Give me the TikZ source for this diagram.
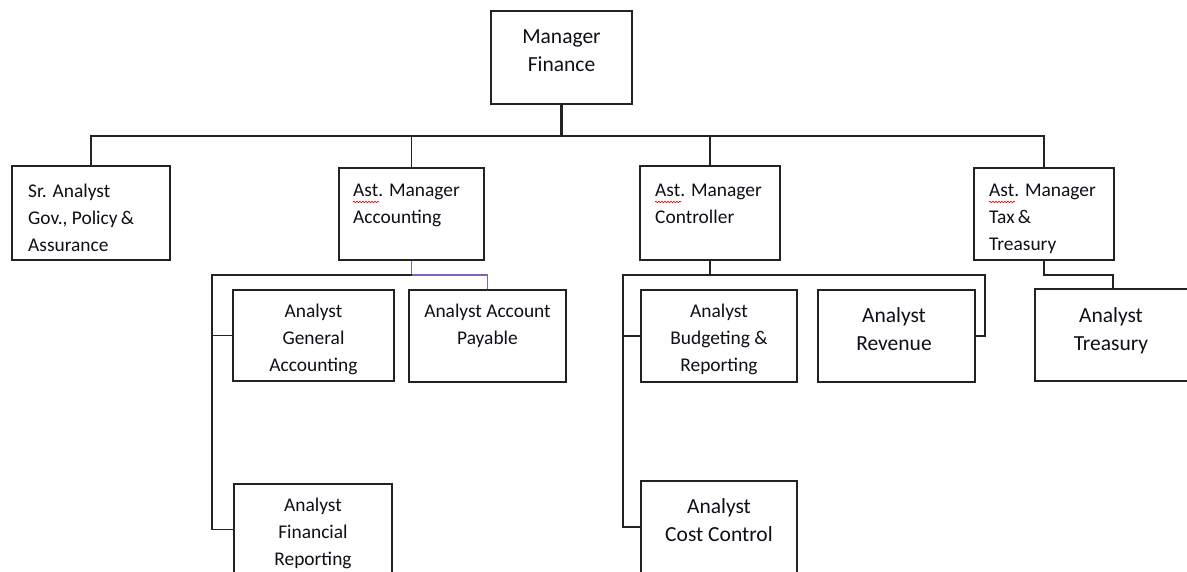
\documentclass[tikz,border=0pt]{standalone}
\usepackage{fontspec}
\setmainfont{Carlito}
\usetikzlibrary{decorations.pathmorphing}
\definecolor{linec}{RGB}{35,35,35}
\definecolor{purp}{RGB}{135,95,190}
\definecolor{txtc}{RGB}{15,15,25}
\begin{document}
\begin{tikzpicture}[x=1pt,y=-1pt,
  orgbox/.style={draw=linec,line width=1.8pt,inner sep=0pt},
  stxt/.style={font=\fontsize{19.4}{27}\selectfont,text=txtc,inner sep=0pt},
  ltxt/.style={font=\fontsize{21.5}{28}\selectfont,text=txtc,inner sep=0pt},
  conn/.style={draw=linec,line width=1.8pt},
  purpline/.style={draw=purp,line width=1.8pt},
  squig/.style={draw=red!85!black,line width=0.6pt,decorate,decoration={snake,amplitude=0.8pt,segment length=3pt}}
]
\useasboundingbox[fill=white] (0,0) rectangle (1187,571);

% boxes
\node[orgbox,minimum width=141,minimum height=93] (mgr) at (561.5,57.5) {};
\node[orgbox,minimum width=158,minimum height=94] (sr) at (91,213) {};
\node[orgbox,minimum width=145,minimum height=92] (acc) at (411.5,214) {};
\node[orgbox,minimum width=140,minimum height=94] (ctrl) at (710,213) {};
\node[orgbox,minimum width=140,minimum height=92] (tax) at (1044,214) {};
\node[orgbox,minimum width=161,minimum height=91] (gen) at (313.5,335.5) {};
\node[orgbox,minimum width=157,minimum height=92] (ap) at (487.5,336) {};
\node[orgbox,minimum width=158,minimum height=91] (fin) at (313,529.5) {};
\node[orgbox,minimum width=156,minimum height=92] (bud) at (719,336) {};
\node[orgbox,minimum width=157,minimum height=92] (rev) at (896.5,336) {};
\node[orgbox,minimum width=156,minimum height=92] (cost) at (719,527) {};
\node[orgbox,minimum width=156,minimum height=92] (tre) at (1113,335) {};

% texts (anchored at baseline of last line)
\node[ltxt,align=center,anchor=base] (mgrT) at (561.5,71) {Manager\\Finance};
\node[stxt,align=left,anchor=base west] (srT) at (28,251) {Sr. Analyst\\Gov., Policy\,\&\\Assurance};
\node[stxt,align=left,anchor=base west] (accT) at (353,223) {Ast. Manager\\Accounting};
\node[stxt,align=left,anchor=base west] (ctrlT) at (655,223) {Ast. Manager\\Controller};
\node[stxt,align=left,anchor=base west] (taxT) at (989,250) {Ast. Manager\\Tax\,\&\\Treasury};
\node[stxt,align=center,anchor=base] (genT) at (313.5,371) {Analyst\\General\\Accounting};
\node[stxt,align=center,anchor=base] (apT) at (487.5,344) {Analyst Account\\Payable};
\node[stxt,align=center,anchor=base] (finT) at (313,565) {Analyst\\Financial\\Reporting};
\node[stxt,align=center,anchor=base] (budT) at (719,371) {Analyst\\Budgeting \&\\Reporting};
\node[ltxt,align=center,anchor=base] (revT) at (894,350) {Analyst\\Revenue};
\node[ltxt,align=center,anchor=base] (costT) at (719,541) {Analyst\\Cost Control};
\node[ltxt,align=center,anchor=base] (treT) at (1111,350) {Analyst\\Treasury};

% spell-check squiggles
\draw[squig] (353,202) -- (379,202);
\draw[squig] (655,202) -- (681,202);
\draw[squig] (989,202) -- (1015,202);

% top level connectors
\draw[conn,line width=2.2pt] (mgr.south) -- ++(0,31) coordinate (topbus);
\draw[conn] (sr.north) |- (topbus);
\draw[conn] (tax.north) |- (topbus);
\draw[conn] (acc.north) -- (acc.north |- topbus);
\draw[conn] (ctrl.north) -- (ctrl.north |- topbus);

% accounting
\draw[purpline] (acc.south) -- ++(0,14) coordinate (accj) -| (ap.north);
\draw[conn] (accj) -- ++(-199.5,0) coordinate (accl) |- (fin.west);
\draw[conn] (gen.west) -- (gen.west -| accl);

% controller
\draw[conn,line width=2.2pt] (ctrl.south) -- ++(0,14) coordinate (ctrlj);
\draw[conn] (ctrlj) -- ++(-87,0) coordinate (ctrll) |- (cost.west);
\draw[conn] (bud.west) -- (bud.west -| ctrll);
\draw[conn] (ctrlj) -- ++(275,0) coordinate (ctrlr) |- (rev.east);

% tax
\draw[conn] (tax.south) -- ++(0,14) coordinate (taxj) -| (tre.north);
\end{tikzpicture}
\end{document}
